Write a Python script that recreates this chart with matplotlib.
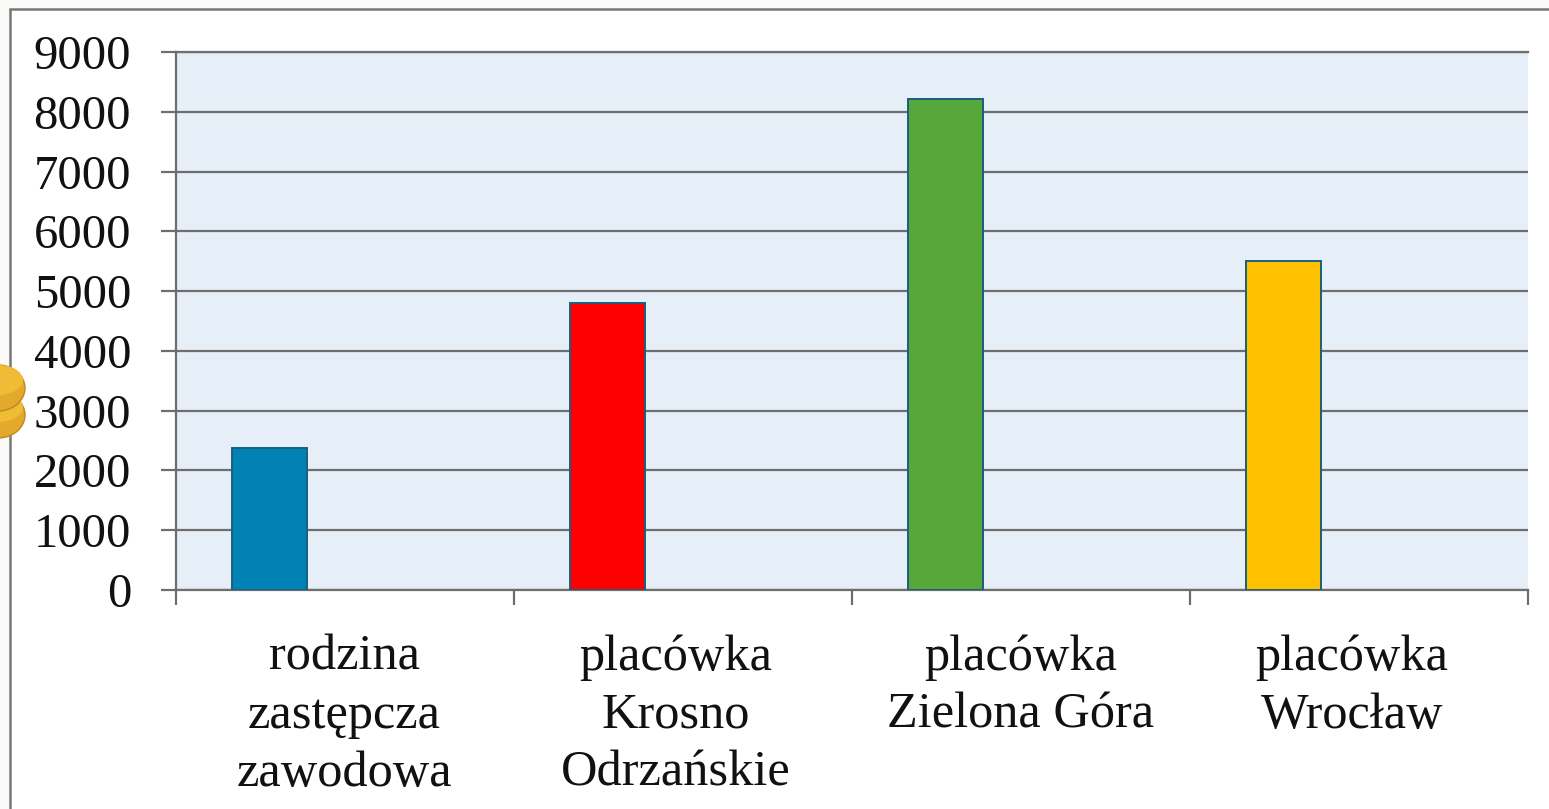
import matplotlib
matplotlib.use('Agg')
import matplotlib.pyplot as plt
from matplotlib.patches import Ellipse, Rectangle

categories = ['rodzina\nzastępcza\nzawodowa', 'placówka\nKrosno\nOdrzańskie',
              'placówka\nZielona Góra', 'placówka\nWrocław']
values = [2380, 4800, 8220, 5500]
bar_colors = ['#0082B4', '#FF0000', '#57A73B', '#FFC000']
y_ticks = [0, 1000, 2000, 3000, 4000, 5000, 6000, 7000, 8000, 9000]

W, H = 1549, 809
plt.rcParams['font.family'] = ['Liberation Serif', 'DejaVu Serif']

fig = plt.figure(figsize=(W / 100, H / 100), dpi=100)

# slide frame, right and bottom sides run off the picture
frame = Rectangle((10 / W, -10 / H), 1600 / W, (H + 10 - 9) / H, transform=fig.transFigure,
                  facecolor='white', edgecolor='#777777', linewidth=1.8, zorder=-1)
fig.add_artist(frame)

ax = fig.add_axes([175.5 / W, 1 - 590 / H, (1528 - 175.5) / W, (590 - 52) / H])
ax.set_facecolor('#E6EEF8')
ax.set_xlim(-0.5, 3.5)
ax.set_ylim(0, 9000)

ax.grid(axis='y', color='#6E6E6E', linewidth=1.6, zorder=1)
ax.set_axisbelow(True)
positions = [i - 0.222 for i in range(len(values))]
ax.bar(positions, values, width=0.222, color=bar_colors, edgecolor='#17607F', linewidth=1.4, zorder=3)

ax.spines['right'].set_visible(False)
for s in ['left', 'bottom', 'top']:
    ax.spines[s].set_color('#6E6E6E')
    ax.spines[s].set_linewidth(1.6)

ax.set_yticks(y_ticks)
ax.set_yticklabels([str(v) for v in y_ticks], fontsize=35, color='#111111')
ax.tick_params(axis='y', length=11, width=1.6, color='#6E6E6E', pad=21)

ax.set_xticks([-0.5, 0.5, 1.5, 2.5, 3.5])
ax.set_xticklabels([])
ax.tick_params(axis='x', length=11, width=1.6, color='#6E6E6E')
label_shift = [0, -5, 0, -5]
for i, name in enumerate(categories):
    ax.annotate(name, xy=(i, 0), xycoords=('data', 'axes fraction'), xytext=(label_shift[i], -32),
                textcoords='offset points', ha='center', va='top', fontsize=36.3, linespacing=1.32,
                color='#111111')

# coins at the left edge
for cy, ch, z in [(415, 46, 5), (388, 46, 7)]:
    fig.add_artist(Ellipse((-2 / W, 1 - cy / H), 54 / W, ch / H, transform=fig.transFigure,
                           facecolor='#E3A92A', edgecolor='#B98A1E', linewidth=1, zorder=z))
    fig.add_artist(Ellipse((-2 / W, 1 - (cy - 8) / H), 50 / W, (ch - 16) / H, transform=fig.transFigure,
                           facecolor='#F0BC35', edgecolor='none', zorder=z + 1))

fig.savefig('out.png', dpi=100, facecolor='#FAFAF8')
